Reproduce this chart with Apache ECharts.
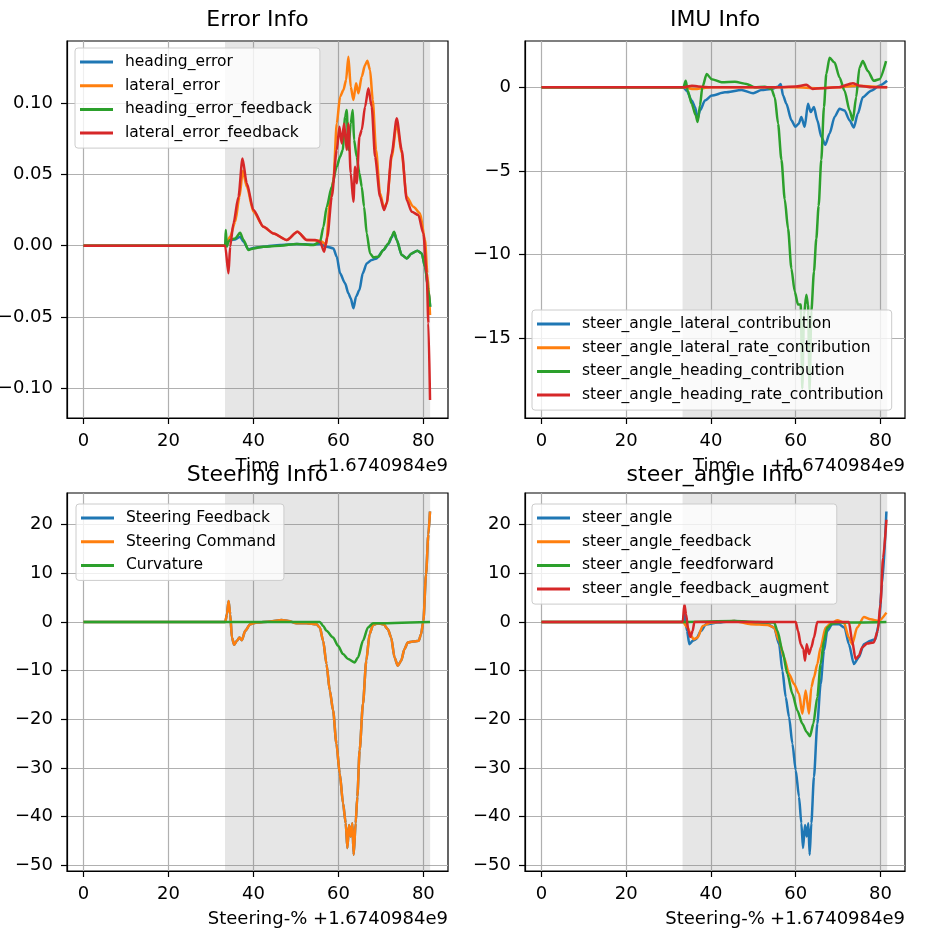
<!DOCTYPE html>
<html>
<head>
<meta charset="utf-8">
<script src="https://cdn.jsdelivr.net/npm/echarts@6/dist/echarts.min.js"></script>
<style>
html,body{margin:0;padding:0;background:#fff;}
#chart{width:929px;height:935px;}
</style>
</head>
<body>
<div id="chart"></div>
<script>
// ---------------- data (x = seconds offset from 1.6740984e9) ----------------
const titles = ['Error Info', 'IMU Info', 'Steering Info', 'steer_angle Info'];
const xNames = ['Time', 'Time', 'Steering-%', 'Steering-%'];
const offsetText = '+1.6740984e9';
const xTicks = [0, 20, 40, 60, 80];
const errTicks = [-0.1, -0.05, 0, 0.05, 0.1];
const imuTicks = [-15, -10, -5, 0];
const steerTicks = [-50, -40, -30, -20, -10, 0, 10, 20];
const shadeRange = [33.3, 81.6];

// Error Info
const headingError = [[0,0],[33.33,0],[33.73,0.002],[34.51,0.004],[35.69,0.0044],[36.86,0.0063],[37.65,0.0028],[38.82,-0.0026],[40.0,-0.0016],[42.35,-0.0007],[46.27,0.0005],[50.2,0.0012],[54.12,0.0007],[55.69,0.0012],[57.25,-0.0007],[58.82,-0.0019],[59.61,-0.0077],[60.39,-0.0194],[61.57,-0.0264],[62.35,-0.0334],[62.9,-0.0369],[63.53,-0.0439],[64.16,-0.0357],[64.94,-0.0311],[65.73,-0.0194],[66.67,-0.0124],[67.84,-0.01],[69.02,-0.0089],[70.59,-0.003],[71.76,0.0012],[72.55,0.0058],[73.1,0.0095],[73.73,0.004],[74.9,-0.0065],[76.08,-0.0089],[77.25,-0.0054],[78.59,-0.0035],[79.61,-0.0054],[80.39,-0.0147],[81.18,-0.0311],[81.6,-0.0428]];
const lateralError = [[0,0],[33.33,0],[34.51,0.0063],[35.69,0.0168],[36.71,0.0343],[37.49,0.0525],[38.43,0.0414],[40.0,0.0238],[42.35,0.0133],[44.71,0.0086],[47.84,0.004],[50.35,0.0098],[52.55,0.004],[55.69,0.0035],[57.1,0.001],[58.04,0.032],[58.82,0.046],[59.61,0.0857],[60.39,0.1044],[61.18,0.1091],[61.8,0.1161],[62.35,0.1325],[62.9,0.1114],[63.53,0.1021],[64.16,0.1138],[64.71,0.1068],[65.49,0.1185],[66.27,0.1266],[66.82,0.1297],[67.45,0.1231],[68.08,0.1021],[68.86,0.0671],[69.8,0.0367],[70.75,0.0262],[71.37,0.0297],[72.55,0.0624],[73.73,0.0857],[74.9,0.0647],[76.08,0.0343],[77.65,0.0273],[79.22,0.0227],[80.39,0.004],[80.94,-0.0194],[81.57,-0.0486]];
const headingErrorFb = [[0,0],[33.33,0],[33.49,0.011],[33.73,-0.0007],[34.12,0.0028],[34.51,0.004],[35.69,0.0051],[36.86,0.0091],[37.65,0.004],[38.82,-0.003],[40.0,-0.0019],[42.35,-0.0007],[46.27,0],[50.2,0.0012],[54.12,0.0005],[55.69,0.0028],[56.47,0.0133],[57.25,0.0273],[58.43,0.0414],[59.61,0.0554],[60.39,0.0624],[61.02,0.0671],[61.57,0.0904],[61.96,0.0951],[62.35,0.0671],[62.9,0.0857],[63.37,0.0951],[63.69,0.0741],[64.31,0.0624],[64.94,0.0507],[65.49,0.0414],[66.04,0.0273],[66.67,0.0086],[67.45,-0.0054],[68.24,-0.0082],[69.41,-0.0077],[70.59,-0.003],[71.76,0.0016],[72.55,0.0063],[73.1,0.0098],[73.73,0.004],[74.9,-0.0065],[76.08,-0.0089],[77.25,-0.0054],[78.59,-0.0035],[79.61,-0.0054],[80.39,-0.0147],[81.18,-0.0311],[81.6,-0.0428]];
const lateralErrorFb = [[0,0],[33.33,0],[34.12,-0.0194],[34.51,-0.0007],[35.29,0.0157],[36.47,0.0343],[37.41,0.0612],[38.43,0.0437],[40.0,0.025],[42.35,0.0133],[44.71,0.0086],[47.84,0.004],[50.35,0.0098],[52.55,0.004],[54.51,0.004],[55.69,0.0028],[56.63,-0.0042],[57.41,0.0063],[58.43,0.0343],[59.61,0.0671],[60.24,0.0834],[60.78,0.0717],[61.33,0.0857],[61.96,0.0671],[62.35,0.0857],[62.9,0.0507],[63.53,0.0308],[63.92,0.0554],[64.31,0.0437],[64.94,0.0764],[65.49,0.0811],[66.27,0.0974],[67.06,0.1103],[67.84,0.0974],[68.63,0.0624],[69.8,0.0343],[70.75,0.025],[71.37,0.0297],[72.55,0.0647],[73.73,0.0893],[74.9,0.0671],[76.08,0.032],[77.25,0.0238],[78.82,0.0215],[80.0,0.0086],[80.78,-0.0194],[81.18,-0.0544],[81.57,-0.1082]];

// IMU Info
const latContrib = [[0,0],[33.49,0],[34.27,-0.2],[35.45,-0.79],[36.24,-1.18],[36.86,-1.87],[37.41,-1.38],[38.59,-0.79],[40.16,-0.49],[43.29,-0.3],[47.22,-0.16],[49.96,-0.35],[51.92,-0.16],[54.27,-0.1],[55.84,0.04],[56.47,0.2],[57.02,-0.49],[57.8,-0.98],[58.98,-1.97],[59.92,-2.36],[60.71,-2.17],[61.33,-1.77],[62.12,-2.36],[62.9,-0.98],[63.53,-1.48],[64.31,-1.18],[65.1,-1.97],[66.04,-2.95],[66.98,-3.44],[68.0,-2.76],[69.18,-1.77],[70.35,-1.28],[71.53,-1.38],[72.71,-1.97],[73.73,-2.4],[74.67,-1.57],[75.84,-0.59],[77.8,-0.2],[79.76,0.1],[81.57,0.39]];
const latRateContrib = [[0,0],[33.49,0],[36.0,-0.1],[40.0,0],[60.0,0],[65.0,-0.05],[70.0,0],[74.0,0.1],[81.6,0]];
const headContrib = [[0,0],[33.49,0],[34.04,0.39],[34.51,-0.2],[35.45,-0.98],[36.39,-1.67],[36.86,-2.07],[37.41,-1.08],[37.96,0],[38.98,0.79],[40.16,0.49],[42.51,0.3],[45.65,0.33],[48.39,0.2],[50.35,0],[52.71,0.04],[54.27,-0.1],[55.06,-0.59],[55.84,-2.17],[56.63,-4.33],[57.41,-6.69],[58.2,-8.46],[58.98,-10.83],[59.76,-12.2],[60.55,-12.99],[61.18,-12.99],[61.57,-18.0],[61.96,-13.58],[62.51,-12.4],[62.9,-12.99],[63.29,-18.1],[63.69,-13.39],[64.31,-11.02],[64.86,-9.06],[65.41,-7.09],[66.04,-4.33],[66.67,-1.18],[67.22,0.79],[68.0,1.77],[69.18,1.48],[70.35,0.59],[71.53,-0.2],[72.71,-1.38],[73.49,-1.97],[74.27,-0.59],[75.06,1.18],[75.84,1.57],[77.02,0.98],[78.43,0.39],[79.76,0.49],[81.33,1.57]];
const headRateContrib = [[0,0],[33.5,0],[35.5,0.1],[37.0,0.05],[40.0,0],[55.0,0],[60.0,0.05],[62.5,0.15],[64.0,-0.1],[66.0,-0.05],[70.0,0],[73.5,0.25],[75.0,0.1],[78.0,0],[81.6,0]];

// Steering Info
const steerCommand = [[0,0],[33.36,0],[33.75,1.57],[34.14,4.29],[34.53,1.57],[34.92,-3.2],[35.47,-4.7],[36.09,-3.89],[36.72,-3.2],[37.27,-3.75],[38.05,-1.84],[39.22,-0.48],[40.78,-0.14],[43.91,0.07],[46.64,0.41],[48.2,0.2],[50.16,-0.27],[52.5,-0.27],[54.84,-0.48],[55.63,-1.16],[56.41,-3.89],[57.19,-8.66],[57.97,-14.11],[58.75,-18.2],[59.53,-25.02],[60.31,-31.15],[61.09,-37.29],[61.72,-41.38],[62.11,-46.49],[62.5,-41.72],[62.89,-44.1],[63.28,-41.38],[63.59,-47.85],[64.06,-41.38],[64.45,-35.92],[65.0,-26.38],[65.78,-16.84],[66.56,-7.98],[67.34,-2.52],[68.13,-0.68],[69.3,-0.27],[70.63,-0.48],[71.64,-1.5],[72.42,-3.2],[73.2,-7.29],[73.98,-9.0],[74.77,-7.98],[75.55,-5.59],[76.33,-4.23],[77.5,-4.02],[78.91,-3.89],[79.45,-2.52],[80.0,0.2],[80.63,9.75],[81.17,17.93],[81.56,22.7]];
const steerFeedback = steerCommand; // drawn underneath the command (fully hidden in the reference)
const curvature = [[0,0],[55.63,0],[56.41,-0.82],[57.19,-1.84],[58.75,-3.2],[59.92,-4.91],[61.09,-6.61],[62.27,-7.63],[63.83,-8.32],[64.61,-7.29],[65.78,-3.89],[66.95,-1.16],[68.13,-0.27],[81.56,0]];

// steer_angle Info
const steerAngle = [[0,0],[33.33,0],[33.73,1.57],[34.35,-1.84],[34.9,-4.57],[35.69,-3.89],[36.47,-3.54],[37.65,-1.84],[38.82,-0.48],[41.57,-0.14],[45.49,0.2],[49.41,-0.14],[53.33,-0.48],[54.9,-1.16],[56.08,-4.57],[56.86,-10.02],[57.65,-15.47],[58.43,-19.56],[59.22,-25.02],[60.0,-30.47],[60.78,-35.92],[61.33,-41.38],[61.73,-46.49],[62.2,-41.72],[62.59,-44.1],[62.98,-41.38],[63.29,-47.85],[63.69,-41.38],[64.31,-31.83],[65.1,-20.93],[65.88,-12.75],[66.67,-5.93],[67.45,-1.84],[68.63,-0.48],[70.2,-0.48],[71.53,-1.16],[72.55,-4.57],[73.73,-8.66],[74.9,-7.29],[76.08,-4.57],[77.65,-3.89],[78.82,-3.54],[79.61,-0.48],[80.39,7.7],[81.41,22.7]];
const steerAngleFb = [[0,0],[33.33,0],[34.51,-1.16],[35.29,-2.86],[35.92,-3.54],[36.86,-3.2],[38.04,-0.82],[40.0,-0.14],[45.49,0.2],[49.41,-0.48],[53.33,-0.61],[54.9,-1.16],[56.08,-3.89],[57.25,-7.29],[58.43,-10.7],[59.61,-12.75],[60.78,-14.79],[61.57,-18.88],[62.35,-14.11],[63.14,-18.88],[63.69,-13.43],[64.31,-11.38],[65.1,-8.66],[65.88,-5.25],[67.06,-1.16],[68.24,-0.34],[69.8,0.34],[71.37,-0.14],[72.55,-3.2],[73.33,-4.57],[74.51,-1.16],[76.08,1.02],[77.65,0.55],[79.61,0.2],[81.41,1.91]];
const steerAngleFf = [[0,0],[33.33,0],[45.49,0.2],[50.98,0],[54.9,-0.14],[55.69,-1.84],[56.86,-5.93],[58.04,-10.7],[59.22,-14.79],[60.39,-18.2],[61.57,-20.93],[62.59,-22.63],[63.37,-23.52],[64.16,-20.93],[65.1,-15.47],[65.88,-8.66],[66.67,-3.89],[67.45,-1.16],[68.63,-0.34],[70.59,-0.14],[81.41,0]];
const steerAngleAug = [[0,0],[33.33,0],[33.73,3.61],[34.12,1.57],[34.67,-1.84],[35.14,-3.07],[35.69,-1.84],[36.08,0],[60.0,0],[60.55,-1.84],[61.18,-4.57],[61.8,-5.59],[62.2,-7.98],[62.59,-4.57],[63.14,-6.61],[63.69,-5.25],[64.31,-3.2],[65.1,0],[72.55,0],[73.33,-3.89],[74.12,-7.63],[74.9,-6.95],[75.69,-5.25],[76.86,-4.43],[78.43,-4.23],[79.37,-1.84],[80.0,3.61],[80.63,13.16],[81.41,21.0]];

// ---------------- chart ----------------
const FONT = 'DejaVu Sans';
const C = ['#1f77b4', '#ff7f0e', '#2ca02c', '#d62728'];
const grids = [
  {left: 67, top: 41, width: 381, height: 377},
  {left: 525, top: 41, width: 380, height: 377},
  {left: 67, top: 493, width: 381, height: 378},
  {left: 525, top: 493, width: 380, height: 378}
];
const yRanges = [[-0.1208, 0.1435], [-19.77, 2.77], [-51.2, 26.5], [-51.2, 26.5]];
const yTickSets = [errTicks, imuTicks, steerTicks, steerTicks];
const minus = v => (v < 0 ? '\u2212' : '');
const yFormatters = [
  v => minus(v) + Math.abs(v).toFixed(2),
  v => minus(v) + Math.abs(Math.round(v)),
  v => minus(v) + Math.abs(Math.round(v)),
  v => minus(v) + Math.abs(Math.round(v))
];
const panels = [
  [['heading_error', headingError], ['lateral_error', lateralError], ['heading_error_feedback', headingErrorFb], ['lateral_error_feedback', lateralErrorFb]],
  [['steer_angle_lateral_contribution', latContrib], ['steer_angle_lateral_rate_contribution', latRateContrib], ['steer_angle_heading_contribution', headContrib], ['steer_angle_heading_rate_contribution', headRateContrib]],
  [['Steering Feedback', steerFeedback], ['Steering Command', steerCommand], ['Curvature', curvature]],
  [['steer_angle', steerAngle], ['steer_angle_feedback', steerAngleFb], ['steer_angle_feedforward', steerAngleFf], ['steer_angle_feedback_augment', steerAngleAug]]
];
const legendPos = [[75, 48], [532, 310], [76, 504], [532, 504]];

const axisLineStyle = {color: '#000', width: 1.2};
const gridLineStyle = {color: '#b0b0b0', width: 1.2};
const labelStyle = {fontSize: 18, fontFamily: FONT, color: '#000'};

const xAxis = grids.map((g, i) => ({
  type: 'value', gridIndex: i, min: -3.9, max: 85.8,
  name: xNames[i], nameLocation: 'middle', nameGap: 39,
  nameTextStyle: {fontSize: 18, fontFamily: FONT, color: '#000'},
  axisLine: {show: true, onZero: false, lineStyle: axisLineStyle},
  axisTick: {show: true, customValues: xTicks, length: 6, lineStyle: axisLineStyle},
  axisLabel: Object.assign({customValues: xTicks, margin: 14}, labelStyle),
  splitLine: {show: true, lineStyle: gridLineStyle}
}));
const yAxis = grids.map((g, i) => ({
  type: 'value', gridIndex: i, min: yRanges[i][0], max: yRanges[i][1],
  axisLine: {show: true, onZero: false, lineStyle: axisLineStyle},
  axisTick: {show: true, customValues: yTickSets[i], length: 6, lineStyle: axisLineStyle},
  axisLabel: Object.assign({customValues: yTickSets[i], margin: 14, formatter: yFormatters[i]}, labelStyle),
  splitLine: {show: true, lineStyle: gridLineStyle}
}));

const series = [];
const legends = [];
panels.forEach((p, i) => {
  series.push({
    type: 'line', xAxisIndex: i, yAxisIndex: i, data: [], z: 1, silent: true,
    markArea: {silent: true, itemStyle: {color: 'rgba(128,128,128,0.2)'},
      data: [[{xAxis: shadeRange[0]}, {xAxis: shadeRange[1]}]]}
  });
  p.forEach(([name, data], k) => {
    series.push({
      type: 'line', name, xAxisIndex: i, yAxisIndex: i, data,
      symbol: 'none', showSymbol: false, z: 2, smooth: 0.25, smoothMonotone: 'x',
      lineStyle: {color: C[k], width: 2.5}, itemStyle: {color: C[k]}
    });
  });
  legends.push({
    data: p.map(d => d[0]), orient: 'vertical',
    left: legendPos[i][0], top: legendPos[i][1],
    icon: 'rect', itemWidth: 33, itemHeight: 3, itemGap: 5.7,
    padding: [5, 8, 6, 5],
    backgroundColor: 'rgba(255,255,255,0.8)', borderColor: '#cccccc', borderWidth: 1, borderRadius: 3,
    selectedMode: false,
    textStyle: {fontSize: 15.5, fontFamily: FONT, color: '#000', lineHeight: 18, padding: [0, 0, 0, 7]}
  });
});

const title = titles.map((t, i) => ({
  text: t, left: grids[i].left + grids[i].width / 2, textAlign: 'center',
  top: i < 2 ? 7 : 462, padding: 0,
  textStyle: {fontSize: 22, fontWeight: 'normal', fontFamily: FONT, color: '#000', lineHeight: 26}
}));

const graphic = grids.map(g => ({
  type: 'text', x: g.left + g.width, y: g.top + g.height + 48,
  style: {text: offsetText, font: '18px "DejaVu Sans"', fill: '#000', align: 'right', verticalAlign: 'middle'}
}));

const chart = echarts.init(document.getElementById('chart'), null, {renderer: 'canvas'});
chart.setOption({
  animation: false,
  backgroundColor: '#fff',
  title,
  grid: grids.map(g => Object.assign({show: true, borderColor: '#000', borderWidth: 1.2, backgroundColor: 'transparent', outerBoundsMode: 'none', containLabel: false}, g)),
  xAxis, yAxis, series, legend: legends, graphic
});
</script>
</body>
</html>
